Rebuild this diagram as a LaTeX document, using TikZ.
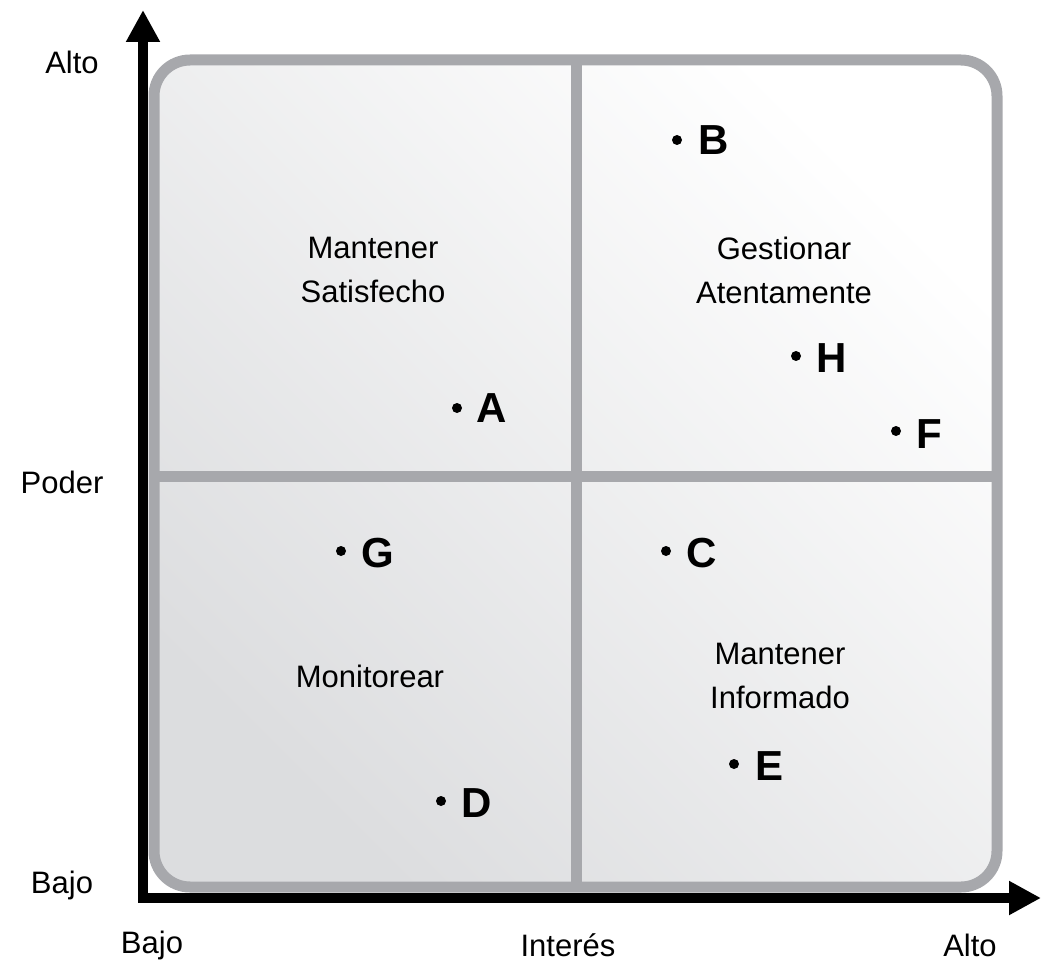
\documentclass[tikz,border=0pt]{standalone}
\usepackage{fontspec}
\setmainfont{Liberation Sans}
\usetikzlibrary{arrows.meta}
\definecolor{framegray}{HTML}{A7A8AC}
\definecolor{fillgray}{HTML}{DCDDDF}
\tikzset{
  lbl/.style={font=\fontsize{31}{44}\selectfont, align=center, inner sep=0pt},
  ptletter/.style={font=\fontsize{42}{42}\bfseries\selectfont, inner sep=0pt},
  ptdot/.style={circle, fill=black, minimum size=10pt, inner sep=0pt},
}
\begin{document}
\begin{tikzpicture}[x=1pt,y=-1pt]
\useasboundingbox (0,0) rectangle (1041,965);
% quadrant frame
\path[shade, top color=white, bottom color=fillgray, shading angle=-45, rounded corners=36pt]
  (154,60) rectangle (997,887);
\draw[framegray, line width=11pt] (576,60) -- (576,887);
\draw[framegray, line width=11pt] (154,476) -- (997,476);
\draw[framegray, line width=11pt, rounded corners=36pt] (154,60) rectangle (997,887);
% axes
\coordinate (o) at (143,898);
\coordinate (ytip) at (143,10);
\coordinate (xtip) at (1041,898);
\draw[line width=10pt, {Triangle[width=32pt,length=32pt]}-{Triangle[width=32pt,length=32pt]}, line join=miter] (ytip) -- (o) -- (xtip);
% axis labels
\node[lbl] (yalto) at (72,62) {Alto};
\node[lbl] (ypoder) at (62,482) {Poder};
\node[lbl] (ybajo) at (62,885) {Bajo};
\node[lbl] (xbajo) at (152,945) {Bajo};
\node[lbl] (xint) at (568,945) {Interés};
\node[lbl] (xalto) at (970,945) {Alto};
% quadrant labels
\node[lbl] (q1) at (373,270) {Mantener\\Satisfecho};
\node[lbl] (q2) at (784,270) {Gestionar\\Atentamente};
\node[lbl] (q3) at (370,676) {Monitorear};
\node[lbl] (q4) at (780,676) {Mantener\\Informado};
% points
\node[ptdot] (dB) at (677,140) {}; \node[ptletter] (B) at (714,140) {B};
\node[ptdot] (dA) at (457,408) {}; \node[ptletter] (A) at (492,408) {A};
\node[ptdot] (dH) at (796,356) {}; \node[ptletter] (H) at (832,358) {H};
\node[ptdot] (dF) at (896,431) {}; \node[ptletter] (F) at (929,434) {F};
\node[ptdot] (dG) at (341,551) {}; \node[ptletter] (G) at (378,553) {G};
\node[ptdot] (dC) at (666,551) {}; \node[ptletter] (C) at (702,553) {C};
\node[ptdot] (dD) at (441,801) {}; \node[ptletter] (D) at (477,803) {D};
\node[ptdot] (dE) at (734,764) {}; \node[ptletter] (E) at (769,766) {E};
\end{tikzpicture}
\end{document}
